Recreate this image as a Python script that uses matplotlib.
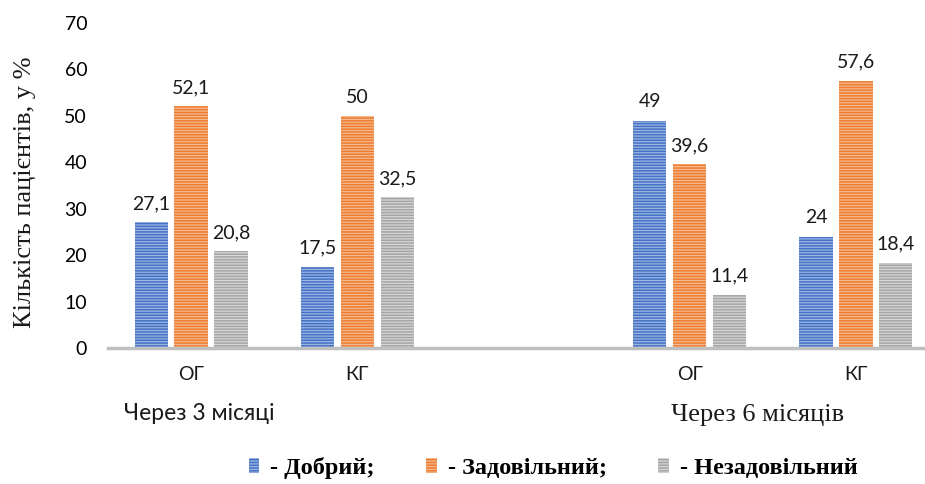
#encoding=utf-8

import numpy as np
import matplotlib
matplotlib.use("Agg")
import matplotlib.pyplot as plt
from matplotlib.patches import Patch

# groups: ОГ / КГ after 3 months, gap, ОГ / КГ after 6 months
groups = ["ОГ", "КГ", "", "ОГ", "КГ"]
dobryi = [27.1, 17.5, np.nan, 49, 24]
zadov = [52.1, 50, np.nan, 39.6, 57.6]
nezadov = [20.8, 32.5, np.nan, 11.4, 18.4]
series_names = ["- Добрий;", "- Задовільний;", "- Незадовільний"]
periods = ["Через 3 місяці", "Через 6 місяців"]

base_colors = ["#4472C4", "#ED7D31", "#A5A5A5"]
light_colors = ["#9DB5E3", "#F6B98E", "#D6D6D6"]


def fmt(v):
    s = ("%.1f" % v).rstrip("0").rstrip(".")
    return s.replace(".", ",")


def main():
    plt.rcParams["hatch.linewidth"] = 1.1
    fig = plt.figure(figsize=(9.25, 4.84), dpi=100)
    ax = fig.add_axes([108 / 925, 1 - 348 / 484, (925 - 108) / 925, (348 - 23) / 484])

    x = np.arange(len(groups))
    w = 0.2
    off = 0.24
    for i, vals in enumerate([dobryi, zadov, nezadov]):
        xs = x + (i - 1) * off
        ax.bar(xs, vals, width=w, color=light_colors[i],
               edgecolor=base_colors[i], linewidth=0,
               hatch="------", zorder=2)
        for xx, v in zip(xs, vals):
            if np.isnan(v):
                continue
            ax.text(xx, v + 2.2, fmt(v), ha="center", va="bottom",
                    fontsize=14, family="Lato", color="#1a1a1a")

    ax.set_xlim(-0.5, 4.5 - 14 / 166)
    ax.set_ylim(0, 70)
    ax.set_yticks(range(0, 71, 10))
    ax.set_yticklabels([str(v) for v in range(0, 71, 10)], family="Lato", fontsize=14)
    ax.tick_params(axis="y", length=0, pad=15)
    ax.set_xticks([])
    for sp in ["top", "right", "left"]:
        ax.spines[sp].set_visible(False)
    ax.spines["bottom"].set_color("#BFBFBF")
    ax.spines["bottom"].set_linewidth(2.5)
    ax.spines["bottom"].set_zorder(3)

    # category labels under the axis
    for xi, g in zip(x, groups):
        if g:
            ax.text(xi, -5.8, g, ha="center", va="center",
                    fontsize=14, family="Lato", color="#1a1a1a")

    fig.text(199 / 925, 1 - 413 / 484, periods[0], ha="center", va="center",
             fontsize=16.5, family="Lato", color="#1a1a1a")
    fig.text(758 / 925, 1 - 415 / 484, periods[1], ha="center", va="center",
             fontsize=19, family="Liberation Serif", color="#1a1a1a")

    fig.text(25 / 925, 1 - 192 / 484, "Кількість пацієнтів, у %", rotation=90,
             ha="center", va="center", fontsize=19, family="Liberation Serif",
             color="#1a1a1a")

    handles = [Patch(facecolor=light_colors[i], edgecolor=base_colors[i],
                     linewidth=0, hatch="------") for i in range(3)]
    fig.legend(handles, series_names, loc="center", ncol=3,
               bbox_to_anchor=(553 / 925, 1 - 468 / 484), frameon=False,
               prop={"family": "Liberation Serif", "weight": "bold", "size": 17.5},
               handlelength=0.45, handleheight=0.6, handletextpad=0.45,
               columnspacing=2.1)

    fig.savefig("out.png", dpi=100)


if __name__ == '__main__':
    main()
